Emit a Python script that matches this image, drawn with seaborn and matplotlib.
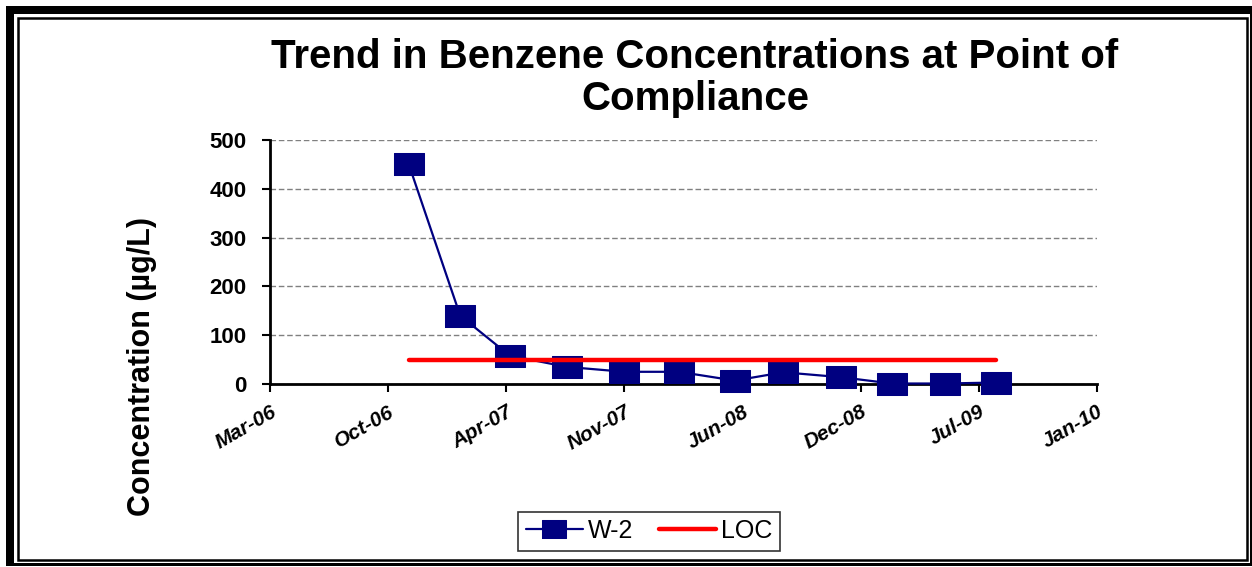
import matplotlib
matplotlib.use("Agg")
import matplotlib.pyplot as plt
import matplotlib.dates as mdates
from matplotlib.patches import Rectangle
import seaborn as sns
import pandas as pd

# ---- data ----
sample_dates = ["2006-11-15", "2007-02-10", "2007-05-05", "2007-08-10",
                "2007-11-15", "2008-02-15", "2008-05-20", "2008-08-10",
                "2008-11-15", "2009-02-10", "2009-05-10", "2009-08-05"]
w2_values = [450, 140, 58, 35, 25, 25, 7, 24, 14, 1, 1, 3]
loc_value = 50
series_names = ["W-2", "LOC"]
y_ticks = [0, 100, 200, 300, 400, 500]
axis_start = "2006-03-25"
tick_step_days = 200
n_ticks = 8

title = "Trend in Benzene Concentrations at Point of\nCompliance"
y_label = "Concentration (\u00b5g/L)"

df = pd.DataFrame({"date": pd.to_datetime(sample_dates), "value": w2_values})
loc_df = pd.DataFrame({"date": pd.to_datetime([sample_dates[0], sample_dates[-1]]),
                       "value": [loc_value, loc_value]})

sns.set_style("white")
plt.rcParams["font.family"] = ["Liberation Sans", "DejaVu Sans"]
plt.rcParams["text.color"] = "black"
plt.rcParams["axes.labelcolor"] = "black"
plt.rcParams["xtick.color"] = "black"
plt.rcParams["ytick.color"] = "black"

fig = plt.figure(figsize=(12.52, 5.67), dpi=100)
W, H = 1252, 567

# frame
fig.patches.append(Rectangle((6 / W, 1 - 566 / H), (1252 - 6) / W, (566 - 6) / H,
                             transform=fig.transFigure, facecolor="black",
                             edgecolor="none", zorder=-10))
fig.patches.append(Rectangle((14 / W, 1 - 563 / H), (1250 - 14) / W, (563 - 14) / H,
                             transform=fig.transFigure, facecolor="white",
                             edgecolor="none", zorder=-9))
fig.patches.append(Rectangle((18 / W, 1 - 560 / H), (1247 - 18) / W, (560 - 18) / H,
                             transform=fig.transFigure, facecolor="none",
                             edgecolor="black", linewidth=1.8, zorder=-8))

ax = fig.add_axes([270 / W, 1 - 384 / H, (1097 - 270) / W, (384 - 140) / H])
ax.set_facecolor("none")

rect_marker = [(-1.27, -1), (1.27, -1), (1.27, 1), (-1.27, 1), (-1.27, -1)]
sns.lineplot(data=df, x="date", y="value", ax=ax, color="#000080",
             linewidth=1.6, marker=rect_marker, markersize=21,
             markeredgecolor="#000080", markerfacecolor="#000080",
             label=series_names[0], zorder=3, clip_on=False)
sns.lineplot(data=loc_df, x="date", y="value", ax=ax, color="#ff0000",
             linewidth=3.2, label=series_names[1], zorder=4, clip_on=False)

start = pd.Timestamp(axis_start)
ticks = pd.date_range(start, periods=n_ticks, freq=f"{tick_step_days}D")
ax.set_xlim(ticks[0], ticks[-1])
ax.set_xticks(ticks)
ax.xaxis.set_major_formatter(mdates.DateFormatter("%b-%y"))
ax.set_ylim(0, 500)
ax.set_yticks(y_ticks)

for s in ["top", "right"]:
    ax.spines[s].set_visible(False)
for s in ["left", "bottom"]:
    ax.spines[s].set_color("black")
    ax.spines[s].set_linewidth(2)

ax.yaxis.grid(True, linestyle=(0, (4, 2)), color="#808080", linewidth=1)
ax.xaxis.grid(False)
ax.tick_params(axis="both", direction="out", length=6, width=1.5,
               color="black", labelcolor="black", bottom=True, left=True)
ax.tick_params(axis="y", labelsize=16, pad=11)
ax.tick_params(axis="x", labelsize=15, pad=7)
for t in ax.get_yticklabels():
    t.set_fontweight("bold")
for t in ax.get_xticklabels():
    t.set_fontweight("bold")
    t.set_fontstyle("italic")
    t.set_rotation(30)
    t.set_ha("right")
    t.set_rotation_mode("anchor")

ax.set_xlabel("")
ax.set_ylabel("")
fig.text(142 / W, 1 - 366 / H, y_label, rotation=90, ha="center", va="center",
         fontsize=22, fontweight="bold", color="black")
fig.text(695 / W, 1 - 38 / H, title, ha="center", va="top", fontsize=29,
         fontweight="bold", linespacing=1.12, color="black")

leg = ax.legend(loc="center", bbox_to_anchor=(649 / W, 1 - 531 / H),
                bbox_transform=fig.transFigure, ncol=2, frameon=True,
                fancybox=False, edgecolor="black", fontsize=18,
                handlelength=2.3, handletextpad=0.2, columnspacing=1.0,
                borderpad=0.3, markerscale=0.8)
leg.get_frame().set_linewidth(1.2)
for t in leg.get_texts():
    t.set_color("black")

fig.savefig("out.png", dpi=100)
